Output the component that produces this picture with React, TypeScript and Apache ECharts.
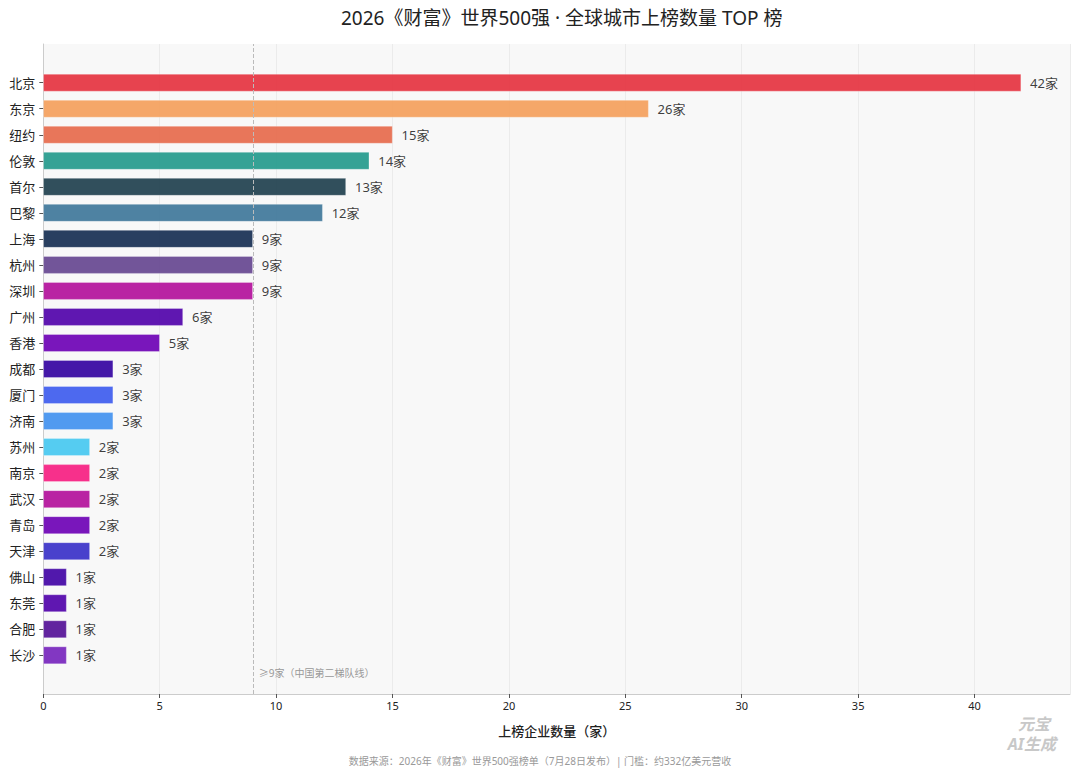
import React, { useEffect, useRef } from "react";
import * as echarts from "echarts";

const cities = ["北京", "东京", "纽约", "伦敦", "首尔", "巴黎", "上海", "杭州", "深圳", "广州", "香港", "成都", "厦门", "济南", "苏州", "南京", "武汉", "青岛", "天津", "佛山", "东莞", "合肥", "长沙"];
const counts = [42, 26, 15, 14, 13, 12, 9, 9, 9, 6, 5, 3, 3, 3, 2, 2, 2, 2, 2, 1, 1, 1, 1];
const colors = ["#e63946", "#f4a261", "#e76f51", "#2a9d8f", "#264653", "#457b9d", "#1d3557", "#6a4c93", "#b5179e", "#560bad", "#7209b7", "#3a0ca3", "#4361ee", "#4895ef", "#4cc9f0", "#f72585", "#b5179e", "#7209b7", "#3f37c9", "#480ca8", "#560bad", "#5a189a", "#7b2cbf"];
const thresholdValue = 9;
const thresholdLabel = "≥9家（中国第二梯队线）";
const xMax = 44.1;
const xInterval = 5;
const titleText = "2026《财富》世界500强 · 全球城市上榜数量 TOP 榜";
const xAxisName = "上榜企业数量（家）";
const sourceText = "数据来源：2026年《财富》世界500强榜单（7月28日发布）| 门槛：约332亿美元营收";
const watermarkTop = "元宝";
const watermarkBottom = "AI生成";

const FONT = "'Noto Sans', 'Noto Sans CJK SC', sans-serif";

export default function App() {
  const ref = useRef<HTMLDivElement>(null);
  useEffect(() => {
    if (!ref.current) return;
    const chart = echarts.init(ref.current, null, { renderer: "svg" });
    const wmStyle = {
      fontFamily: FONT,
      fontSize: 16,
      fontWeight: "bold",
      fontStyle: "italic",
      fill: "#c8c8c8",
    };
    const option: any = {
      animation: false,
      backgroundColor: "#ffffff",
      textStyle: { fontFamily: FONT },
      title: {
        text: titleText,
        left: 336,
        top: 3,
        textStyle: { fontFamily: FONT, fontSize: 19, fontWeight: "normal", color: "#222" },
      },
      grid: [
        { left: 43.3, right: 10, top: 44, bottom: 82, show: true, backgroundColor: "#f8f8f8", borderWidth: 0 },
        { left: 43.3, right: 10, top: 69.7, bottom: 107.7 },
      ],
      xAxis: [
        {
          type: "value",
          gridIndex: 0,
          min: 0,
          max: xMax,
          interval: xInterval,
          name: xAxisName,
          nameLocation: "middle",
          nameGap: 30,
          nameTextStyle: { fontFamily: FONT, fontSize: 13, color: "#222", fontWeight: 500 },
          axisLine: { show: true, lineStyle: { color: "#cccccc", width: 1 } },
          axisTick: { show: true, length: 4, lineStyle: { color: "#555" } },
          axisLabel: { fontFamily: FONT, fontSize: 11, color: "#222", margin: 6, showMaxLabel: false },
          splitLine: { show: true, lineStyle: { color: "#ebebeb", width: 1 } },
        },
        { type: "value", gridIndex: 1, min: 0, max: xMax, show: false },
      ],
      yAxis: [
        {
          type: "value",
          gridIndex: 0,
          min: 0,
          max: 1,
          axisLine: { show: true, lineStyle: { color: "#cccccc", width: 1 } },
          axisTick: { show: false },
          axisLabel: { show: false },
          splitLine: { show: false },
        },
        {
          type: "category",
          gridIndex: 1,
          inverse: true,
          data: cities,
          axisLine: { show: false },
          axisTick: { show: true, length: 4, alignWithLabel: true, lineStyle: { color: "#555" } },
          axisLabel: { fontFamily: FONT, fontSize: 13, color: "#222", margin: 8 },
          splitLine: { show: false },
        },
      ],
      series: [
        {
          type: "line",
          xAxisIndex: 0,
          yAxisIndex: 0,
          data: [],
          silent: true,
          markLine: {
            silent: true,
            symbol: "none",
            lineStyle: { type: "dashed", color: "#bbbbbb", width: 1 },
            label: {
              show: true,
              position: "start",
              formatter: thresholdLabel,
              fontFamily: FONT,
              fontSize: 10,
              color: "#999",
              align: "left",
              verticalAlign: "middle",
              distance: 0,
              offset: [6, -21],
            },
            data: [{ xAxis: thresholdValue }],
          },
        },
        {
          type: "bar",
          xAxisIndex: 1,
          yAxisIndex: 1,
          barWidth: 17.5,
          data: counts.map((v, i) => ({
            value: v,
            itemStyle: { color: colors[i], opacity: 0.95, borderColor: "rgba(255,255,255,0.6)", borderWidth: 0.5 },
          })),
          label: {
            show: true,
            position: "right",
            distance: 9,
            formatter: "{c}家",
            fontFamily: FONT,
            fontSize: 13,
            color: "#333",
          },
        },
      ],
      graphic: [
        {
          type: "text",
          left: "center",
          top: 756,
          style: { text: sourceText, fontFamily: FONT, fontSize: 10, fill: "#999" },
        },
        {
          type: "text",
          right: 30,
          top: 716,
          style: { ...wmStyle, text: watermarkTop },
        },
        {
          type: "text",
          right: 24,
          top: 736,
          style: { ...wmStyle, text: watermarkBottom },
        },
      ],
    };
    chart.setOption(option);
    return () => chart.dispose();
  }, []);
  return (
    <div
      ref={ref}
      style={{ position: "fixed", left: 0, top: 0, width: 1080, height: 776 }}
    />
  );
}
